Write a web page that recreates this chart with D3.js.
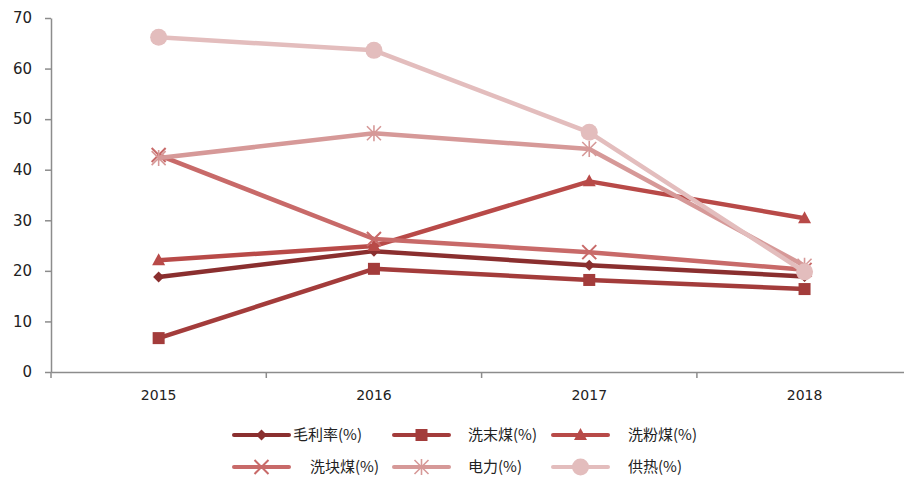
<!DOCTYPE html>
<html>
<head>
<meta charset="utf-8">
<script src="https://cdn.jsdelivr.net/npm/d3@7"></script>
<style>
  body { margin: 0; background: #fff; }
  svg text { font-family: "DejaVu Sans", Verdana, sans-serif; fill: #222; }
  .leg text { font-family: "Noto Sans CJK SC", "DejaVu Sans", sans-serif; font-size: 15px; }
</style>
</head>
<body>
<svg width="904" height="479"></svg>
<script>
const years = ["2015", "2016", "2017", "2018"];
const seriesNames = ["毛利率(%)", "洗末煤(%)", "洗粉煤(%)", "洗块煤(%)", "电力(%)", "供热(%)"];
const grossMargin = [18.8, 23.9, 21.1, 18.9];
const washedFines = [6.7, 20.4, 18.2, 16.4];
const washedPowder = [22.1, 24.9, 37.7, 30.4];
const washedLump = [42.9, 26.3, 23.7, 20.2];
const power = [42.3, 47.2, 44.1, 21.0];
const heating = [66.2, 63.6, 47.4, 19.8];
const yTicks = [0, 10, 20, 30, 40, 50, 60, 70];

const colors = ["#8a2f2f", "#a33c3b", "#b84a48", "#c86a69", "#d69998", "#e3bdbd"];
const markers = ["diamond", "square", "triangle", "cross", "star", "circle"];
const series = [grossMargin, washedFines, washedPowder, washedLump, power, heating];

const svg = d3.select("svg");
const plotLeft = 51, plotTop = 18, plotBottom = 372;
const band = 215.3;

const x = d3.scaleBand().domain(years).range([plotLeft, plotLeft + band * years.length]);
const y = d3.scaleLinear().domain([0, 70]).range([plotBottom, plotTop]);

// axes
const yAxis = svg.append("g").attr("transform", `translate(${plotLeft},0)`)
  .call(d3.axisLeft(y).tickValues(yTicks).tickSize(6).tickSizeOuter(0));
yAxis.select(".domain").attr("stroke", "#8c8c8c").attr("stroke-width", 1.5);
yAxis.selectAll(".tick line").attr("stroke", "#8c8c8c").attr("stroke-width", 1.5);
yAxis.selectAll("text").attr("font-size", 15).attr("fill", "#222").attr("x", -19);

const xAxis = svg.append("g").attr("transform", `translate(0,${plotBottom})`)
  .call(d3.axisBottom(x).tickSize(0).tickSizeOuter(0));
xAxis.select(".domain").attr("stroke", "#8c8c8c").attr("stroke-width", 1.5);
xAxis.selectAll("text").attr("font-size", 14).attr("fill", "#222").attr("dy", "1.75em");
// category boundary ticks
const bounds = d3.range(years.length).map(i => x(years[i]));
svg.append("g").selectAll("line").data(bounds).join("line")
  .attr("x1", d => d).attr("x2", d => d)
  .attr("y1", plotBottom).attr("y2", plotBottom + 6)
  .attr("stroke", "#8c8c8c").attr("stroke-width", 1.5);

function drawMarker(g, type, color, cx, cy) {
  if (type === "diamond") {
    g.append("path").attr("d", `M${cx},${cy-5.5}L${cx+5.5},${cy}L${cx},${cy+5.5}L${cx-5.5},${cy}Z`).attr("fill", color);
  } else if (type === "square") {
    g.append("rect").attr("x", cx - 6).attr("y", cy - 6).attr("width", 12).attr("height", 12).attr("fill", color);
  } else if (type === "triangle") {
    g.append("path").attr("d", `M${cx},${cy-7}L${cx+6.5},${cy+5}L${cx-6.5},${cy+5}Z`).attr("fill", color);
  } else if (type === "cross") {
    g.append("path").attr("d", `M${cx-7},${cy-7}L${cx+7},${cy+7}M${cx-7},${cy+7}L${cx+7},${cy-7}`)
      .attr("stroke", color).attr("stroke-width", 2).attr("fill", "none");
  } else if (type === "star") {
    g.append("path").attr("d", `M${cx-7},${cy-7}L${cx+7},${cy+7}M${cx-7},${cy+7}L${cx+7},${cy-7}M${cx},${cy-8}L${cx},${cy+8}`)
      .attr("stroke", color).attr("stroke-width", 1.6).attr("fill", "none");
  } else {
    g.append("circle").attr("cx", cx).attr("cy", cy).attr("r", 8.5).attr("fill", color);
  }
}

const line = d3.line().x((d, i) => x(years[i]) + x.bandwidth() / 2).y(d => y(d));

series.forEach((vals, s) => {
  const g = svg.append("g");
  g.append("path").datum(vals).attr("d", line)
    .attr("fill", "none").attr("stroke", colors[s]).attr("stroke-width", 4.5)
    .attr("stroke-linejoin", "round");
  vals.forEach((v, i) => drawMarker(g, markers[s], colors[s], x(years[i]) + x.bandwidth() / 2, y(v)));
});

// legend
const legX = [234, 394, 553];
const legTextX = [[293, 468, 628], [310, 468, 628]];
const legY = [435, 467];
const leg = svg.append("g").attr("class", "leg");
seriesNames.forEach((name, s) => {
  const row = Math.floor(s / 3), col = s % 3;
  const lx = legX[col], ly = legY[row];
  const g = leg.append("g");
  g.append("line").attr("x1", lx).attr("x2", lx + 55).attr("y1", ly).attr("y2", ly)
    .attr("stroke", colors[s]).attr("stroke-width", 4).attr("stroke-linecap", "round");
  drawMarker(g, markers[s], colors[s], lx + 27.5, ly);
  g.append("text").attr("x", legTextX[row][col]).attr("y", ly + 5).text(name);
});
</script>
</body>
</html>
